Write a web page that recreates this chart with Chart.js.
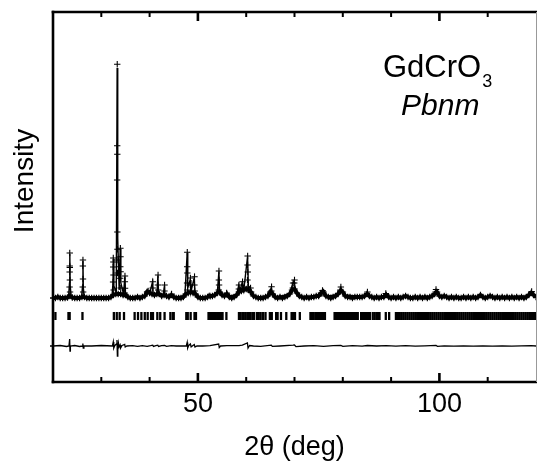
<!DOCTYPE html>
<html><head><meta charset="utf-8">
<script src="https://cdn.jsdelivr.net/npm/chart.js@4"></script>
<style>html,body{margin:0;padding:0;background:#fff}#wrap{width:537px;height:467px;position:relative}</style>
</head><body><div id="wrap"><canvas id="c"></canvas></div>
<script>
// ---- axis ticks ----
const xTicksMajor = [50, 100];
const xTicksMinor = [30, 40, 60, 70, 80, 90, 110];

// ---- observed profile: background points (2θ, counts) ----
const obsBaseX = [20,20.5,21,21.5,22,22.5,23,23.5,24,24.5,25,25.5,26,26.5,27,27.5,28,28.5,29,29.5,
30,30.5,31,31.5,32,32.5,33,33.5,34,34.5,35,35.5,36,36.5,37,37.5,38,38.5,39,39.5,
40,40.5,41,41.5,42,42.5,43,43.5,44,44.5,45,45.5,46,46.5,47,47.5,48,48.5,49,49.5,
50,50.5,51,51.5,52,52.5,53,53.5,54,54.5,55,55.5,56,56.5,57,57.5,58,58.5,59,59.5,
60,60.5,61,61.5,62,62.5,63,63.5,64,64.5,65,65.5,66,66.5,67,67.5,68,68.5,69,69.5,
70,70.5,71,71.5,72,72.5,73,73.5,74,74.5,75,75.5,76,76.5,77,77.5,78,78.5,79,79.5,
80,80.5,81,81.5,82,82.5,83,83.5,84,84.5,85,85.5,86,86.5,87,87.5,88,88.5,89,89.5,
90,90.5,91,91.5,92,92.5,93,93.5,94,94.5,95,95.5,96,96.5,97,97.5,98,98.5,99,99.5,
100,100.5,101,101.5,102,102.5,103,103.5,104,104.5,105,105.5,106,106.5,107,107.5,108,108.5,109,109.5,
110,110.5,111,111.5,112,112.5,113,113.5,114,114.5,115,115.5,116,116.5,117,117.5,118,118.5,119,119.5,120];
const obsBaseY = [0,0,10,0,0,0,5,20,5,0,0,0,10,10,0,0,0,0,0,0,
0,0,0,0,10,30,40,40,40,30,30,10,0,0,0,10,0,10,20,60,
50,40,30,40,40,20,30,20,10,30,10,0,0,0,10,40,50,60,50,40,
10,0,0,0,10,20,20,30,50,60,30,20,40,10,0,10,30,60,70,80,
90,80,60,20,10,0,0,0,10,20,60,40,10,0,10,0,10,20,40,80,
90,50,20,10,0,10,0,10,10,20,20,50,60,20,10,0,10,20,40,70,
60,20,10,10,0,10,10,10,10,20,40,20,10,0,10,0,10,10,30,10,
0,10,0,10,0,10,20,10,0,0,10,0,10,0,10,0,10,20,40,60,
20,10,20,10,0,10,0,10,0,0,10,0,10,0,10,0,10,30,10,0,
10,20,10,0,10,0,10,0,10,0,10,0,10,0,10,0,10,30,50,30,10];

// ---- observed profile: points on the Bragg peaks ----
const obsPeakX = [23.47,23.46,23.48,23.45,23.5,23.43,23.53,
26.2,26.18,26.21,26.16,26.24,
32.48,32.5,32.46,32.52,32.44,32.56,
33.3,33.29,33.31,33.28,33.32,33.34,33.26,33.36,
33.95,33.97,33.93,33.99,33.91,34.02,
34.9,34.88,34.92,34.85,
39.7,39.5,40.66,40.64,41.75,41.72,41.78,43.1,43.08,44.55,
47.8,47.78,47.82,47.76,47.85,48.45,48.43,49.3,49.28,49.33,
54.36,54.34,54.38,54.32,55.95,58.5,58.48,59.25,59.22,
60.3,60.28,60.32,60.26,60.35,60.9,60.85,65.25,65.2,
69.7,69.65,70.0,69.95,75.8,75.7,79.6,79.5,85.1,88.9,99.3,99.2,119.1];
const obsPeakY = [450,320,305,260,180,110,60,
380,320,190,110,60,
400,360,310,230,160,80,
2337,1523,1437,1180,660,487,380,250,
497,413,313,263,197,100,
220,163,97,50,
70,60,163,100,230,130,80,130,70,40,
457,313,250,150,80,200,130,213,130,70,
270,180,130,80,50,130,90,163,100,
420,330,260,180,110,100,60,113,70,
150,100,180,150,75,50,110,80,60,45,85,60,65];

// ---- calculated profile ----
const calcX = [20,23.2,23.42,23.48,23.56,23.8,25.9,26.12,26.2,26.28,26.5,
32.2,32.42,32.5,32.6,33.1,33.28,33.4,33.7,33.92,34.05,34.6,34.88,35.0,35.6,
39.0,39.5,39.7,40.0,40.6,40.75,41.5,41.72,41.85,42.8,43.08,43.2,44.3,44.55,44.8,
47.3,47.78,47.9,48.4,48.55,49.25,49.4,50.0,52.0,52.3,52.5,54.0,54.35,54.5,55.3,55.9,56.1,
58.0,58.45,58.7,59.2,59.5,60.28,60.45,60.85,61.1,62.0,64.8,65.2,65.5,66.0,
69.0,69.6,69.9,70.3,71.0,75.2,75.8,76.4,79.0,79.6,80.2,84.5,85.1,85.7,
88.6,88.9,89.3,92.8,93.1,93.4,98.8,99.3,99.8,100.8,101.1,101.4,
108.3,108.6,109,110.5,110.7,111,118.6,119.1,119.6,120];
const calcY = [0,0,150,440,120,5,0,120,370,100,0,
10,150,390,120,60,2300,600,80,490,150,40,215,60,10,
20,60,70,40,160,40,40,225,50,25,125,25,15,40,10,
20,450,100,180,60,205,50,10,10,40,15,40,265,50,20,50,20,
30,125,70,160,80,415,120,100,30,10,20,105,30,5,
40,140,170,60,10,20,70,20,30,105,30,15,60,15,
10,45,10,10,25,5,20,80,20,10,30,5,
10,35,5,10,25,5,20,60,25,5];

// ---- Bragg reflection positions (2θ) ----
const braggX = [20.5,23.2,23.45,26.1,32.6,33.2,33.8,34.7,36.9,37.6,38.3,39.0,39.6,40.3,40.7,41.6,42.2,43.1,44.3,44.8,45.0,
47.6,47.9,48.5,49.3,49.6,52.2,52.5,52.8,53.1,53.4,53.7,54.0,54.3,54.6,54.9,55.1,55.9,
58.5,58.8,59.2,59.5,59.9,60.3,60.6,60.9,61.3,61.6,62.2,62.6,63.0,63.5,64.0,64.9,65.3,66.2,66.5,67.2,68.3,
69.4,69.7,70.1,71.1,73.3,73.6,73.9,74.3,74.6,74.9,75.3,75.6,75.9,76.3,
78.3,78.6,78.9,79.2,79.5,79.8,80.1,80.4,80.7,81.0,81.3,81.6,81.9,82.2,82.5,82.8,83.1,
83.8,84.1,84.4,84.7,85.0,85.3,85.6,86.2,86.6,87.0,87.3,87.6,88.9,89.6,
91.0,91.4,91.8,92.2,92.6,93.0,93.4,93.8,94.2,94.6,95.0,95.4,95.8,96.2,96.6,97.0,97.4,97.8,98.2,98.6,
99.0,99.4,99.8,100.2,100.6,101.0,101.4,101.8,102.2,102.6,103.0,103.4,103.8,104.2,104.6,105.0,105.4,105.8,
106.2,106.6,107.0,107.4,107.8,108.2,108.6,109.0,109.4,109.8,110.2,110.6,111.0,111.4,111.8,112.2,112.6,
113.0,113.4,113.8,114.2,114.6,115.0,115.4,115.8,116.2,116.6,117.0,117.4,117.8,118.2,118.6,119.0,119.4,119.8];

// ---- difference curve (Yobs - Ycalc) ----
const diffX = [20,21.5,22.8,23.3,23.45,23.52,23.6,24.5,25.5,26.1,26.18,26.26,26.4,28,30,
32.3,32.48,32.58,32.8,33.15,33.25,33.33,33.42,33.55,33.7,33.9,34.0,34.3,34.85,34.95,35.3,
36.5,37.5,38.5,39.5,40.2,40.65,40.8,41.3,41.7,41.85,42.5,43.1,43.5,44.5,45.5,
47.6,47.78,47.88,48.1,48.45,48.6,49.25,49.4,49.8,51,52.5,54.3,54.42,54.7,56,58.5,59.2,
60.25,60.38,60.7,61.5,63,65.2,65.4,67,69.7,70.0,70.3,72,74,76,78,79.6,80,82,84,85.1,87,
89,91,93,95,97,99.3,99.6,101,103,105,107,109,111,113,115,117,119,120];
const diffY = [0,5,-5,0,70,-50,0,5,-5,0,25,-20,0,0,5,
0,40,-20,5,20,60,-100,-40,30,-10,10,-20,5,15,-10,0,
3,-3,3,-3,3,8,-4,3,8,-5,3,6,-3,3,0,
0,35,-20,5,20,-8,15,-10,0,0,3,20,-15,0,3,3,8,
30,-20,5,0,-3,8,-4,0,8,10,-6,0,3,-3,3,6,-3,3,-2,5,0,
3,-2,3,-2,2,6,-3,2,-2,2,-2,2,-2,2,-2,2,4,0];

// offsets (intensity units) at which the tick row and difference curve are drawn
const braggOffset = -180;
const diffOffset = -480;

const FONT = '"Liberation Sans", Arial, Helvetica, sans-serif';

const obsBaseData = obsBaseX.map((x, i) => ({x, y: obsBaseY[i]}));
const obsPeakData = obsPeakX.map((x, i) => ({x, y: obsPeakY[i]}));
const calcData = calcX.map((x, i) => ({x, y: calcY[i]}));
const braggData = braggX.map(x => ({x, y: braggOffset}));
const diffData = diffX.map((x, i) => ({x, y: diffY[i] + diffOffset}));

const framePlugin = {
  id: 'frame',
  afterDraw(chart) {
    const {ctx, chartArea: a, scales: {x, y}} = chart;
    ctx.save();
    const seg = (x1, y1, x2, y2) => { ctx.beginPath(); ctx.moveTo(x1, y1); ctx.lineTo(x2, y2); ctx.stroke(); };
    ctx.strokeStyle = '#000';
    ctx.lineCap = 'butt';
    ctx.lineWidth = 2.6;
    seg(a.left, a.top - 1.3, a.left, a.bottom + 1.3);
    seg(a.left - 1.3, a.bottom, a.right + 1, a.bottom);
    seg(a.left - 1.3, a.top, a.right + 1, a.top);
    ctx.lineWidth = 1; ctx.strokeStyle = '#999';
    seg(a.right + 0.5, a.top, a.right + 0.5, a.bottom);
    ctx.strokeStyle = '#000';
    xTicksMajor.forEach(v => {
      const p = x.getPixelForValue(v);
      ctx.lineWidth = 2.6;
      seg(p, a.bottom, p, a.bottom - 9);
      seg(p, a.top, p, a.top + 9);
    });
    xTicksMinor.forEach(v => {
      const p = x.getPixelForValue(v);
      ctx.lineWidth = 2;
      seg(p, a.bottom, p, a.bottom - 5);
      seg(p, a.top, p, a.top + 5);
    });
    ctx.lineWidth = 1.5;
    [0, diffOffset].forEach(v => { const p = y.getPixelForValue(v); seg(a.left - 3, p, a.left, p); });

    ctx.fillStyle = '#000';
    // y axis title
    ctx.save();
    ctx.translate(33, 181);
    ctx.rotate(-Math.PI / 2);
    ctx.font = '28px ' + FONT;
    ctx.textAlign = 'center';
    ctx.textBaseline = 'alphabetic';
    ctx.fillText('Intensity', 0, 0);
    ctx.restore();
    // compound and space group
    ctx.textAlign = 'left';
    ctx.textBaseline = 'alphabetic';
    ctx.font = '31px ' + FONT;
    ctx.fillText('GdCrO', 383, 77);
    const w = ctx.measureText('GdCrO').width;
    ctx.font = '18px ' + FONT;
    ctx.fillText('3', 383 + w + 1, 87);
    ctx.font = 'italic 30px ' + FONT;
    ctx.fillText('Pbnm', 401, 115);
    ctx.restore();
  }
};

new Chart(document.getElementById('c'), {
  type: 'line',
  data: {datasets: [
    {label: 'Yobs', data: obsBaseData, showLine: true, borderWidth: 4, borderColor: '#000',
     pointStyle: 'cross', pointRadius: 3.3, pointBorderWidth: 1.2, pointBorderColor: '#000', tension: 0},
    {label: 'Yobs (peaks)', data: obsPeakData, showLine: false, pointStyle: 'cross', pointRadius: 3.2,
     pointBorderWidth: 1.1, pointBorderColor: '#000', borderColor: '#000'},
    {label: 'Ycalc', data: calcData, borderColor: '#000', borderWidth: 1.4, pointRadius: 0, tension: 0},
    {label: 'Bragg', data: braggData, showLine: false, pointStyle: 'line', pointRotation: 90, pointRadius: 4,
     pointBorderWidth: 2.3, pointBorderColor: '#000', borderColor: '#000'},
    {label: 'Diff', data: diffData, borderColor: '#000', borderWidth: 1.3, pointRadius: 0, tension: 0}
  ]},
  options: {
    responsive: true, maintainAspectRatio: false, animation: false, devicePixelRatio: 1,
    events: [],
    layout: {autoPadding: false, padding: {left: 53, right: 1, top: 12, bottom: 0}},
    plugins: {legend: {display: false}, tooltip: {enabled: false}},
    scales: {
      x: {
        type: 'linear', min: 20, max: 120,
        grid: {display: false, drawTicks: false}, border: {display: false},
        afterBuildTicks: s => { s.ticks = xTicksMajor.map(v => ({value: v})); },
        afterFit: s => { s.height = 85; },
        ticks: {font: {family: FONT, size: 27}, color: '#000', padding: 6, maxRotation: 0, autoSkip: false},
        title: {display: true, text: '2θ (deg)', font: {family: FONT, size: 27}, color: '#000', padding: {top: 0, bottom: 3}}
      },
      y: {display: false, min: -840, max: 2860}
    }
  },
  plugins: [framePlugin]
});
</script>
</body></html>
